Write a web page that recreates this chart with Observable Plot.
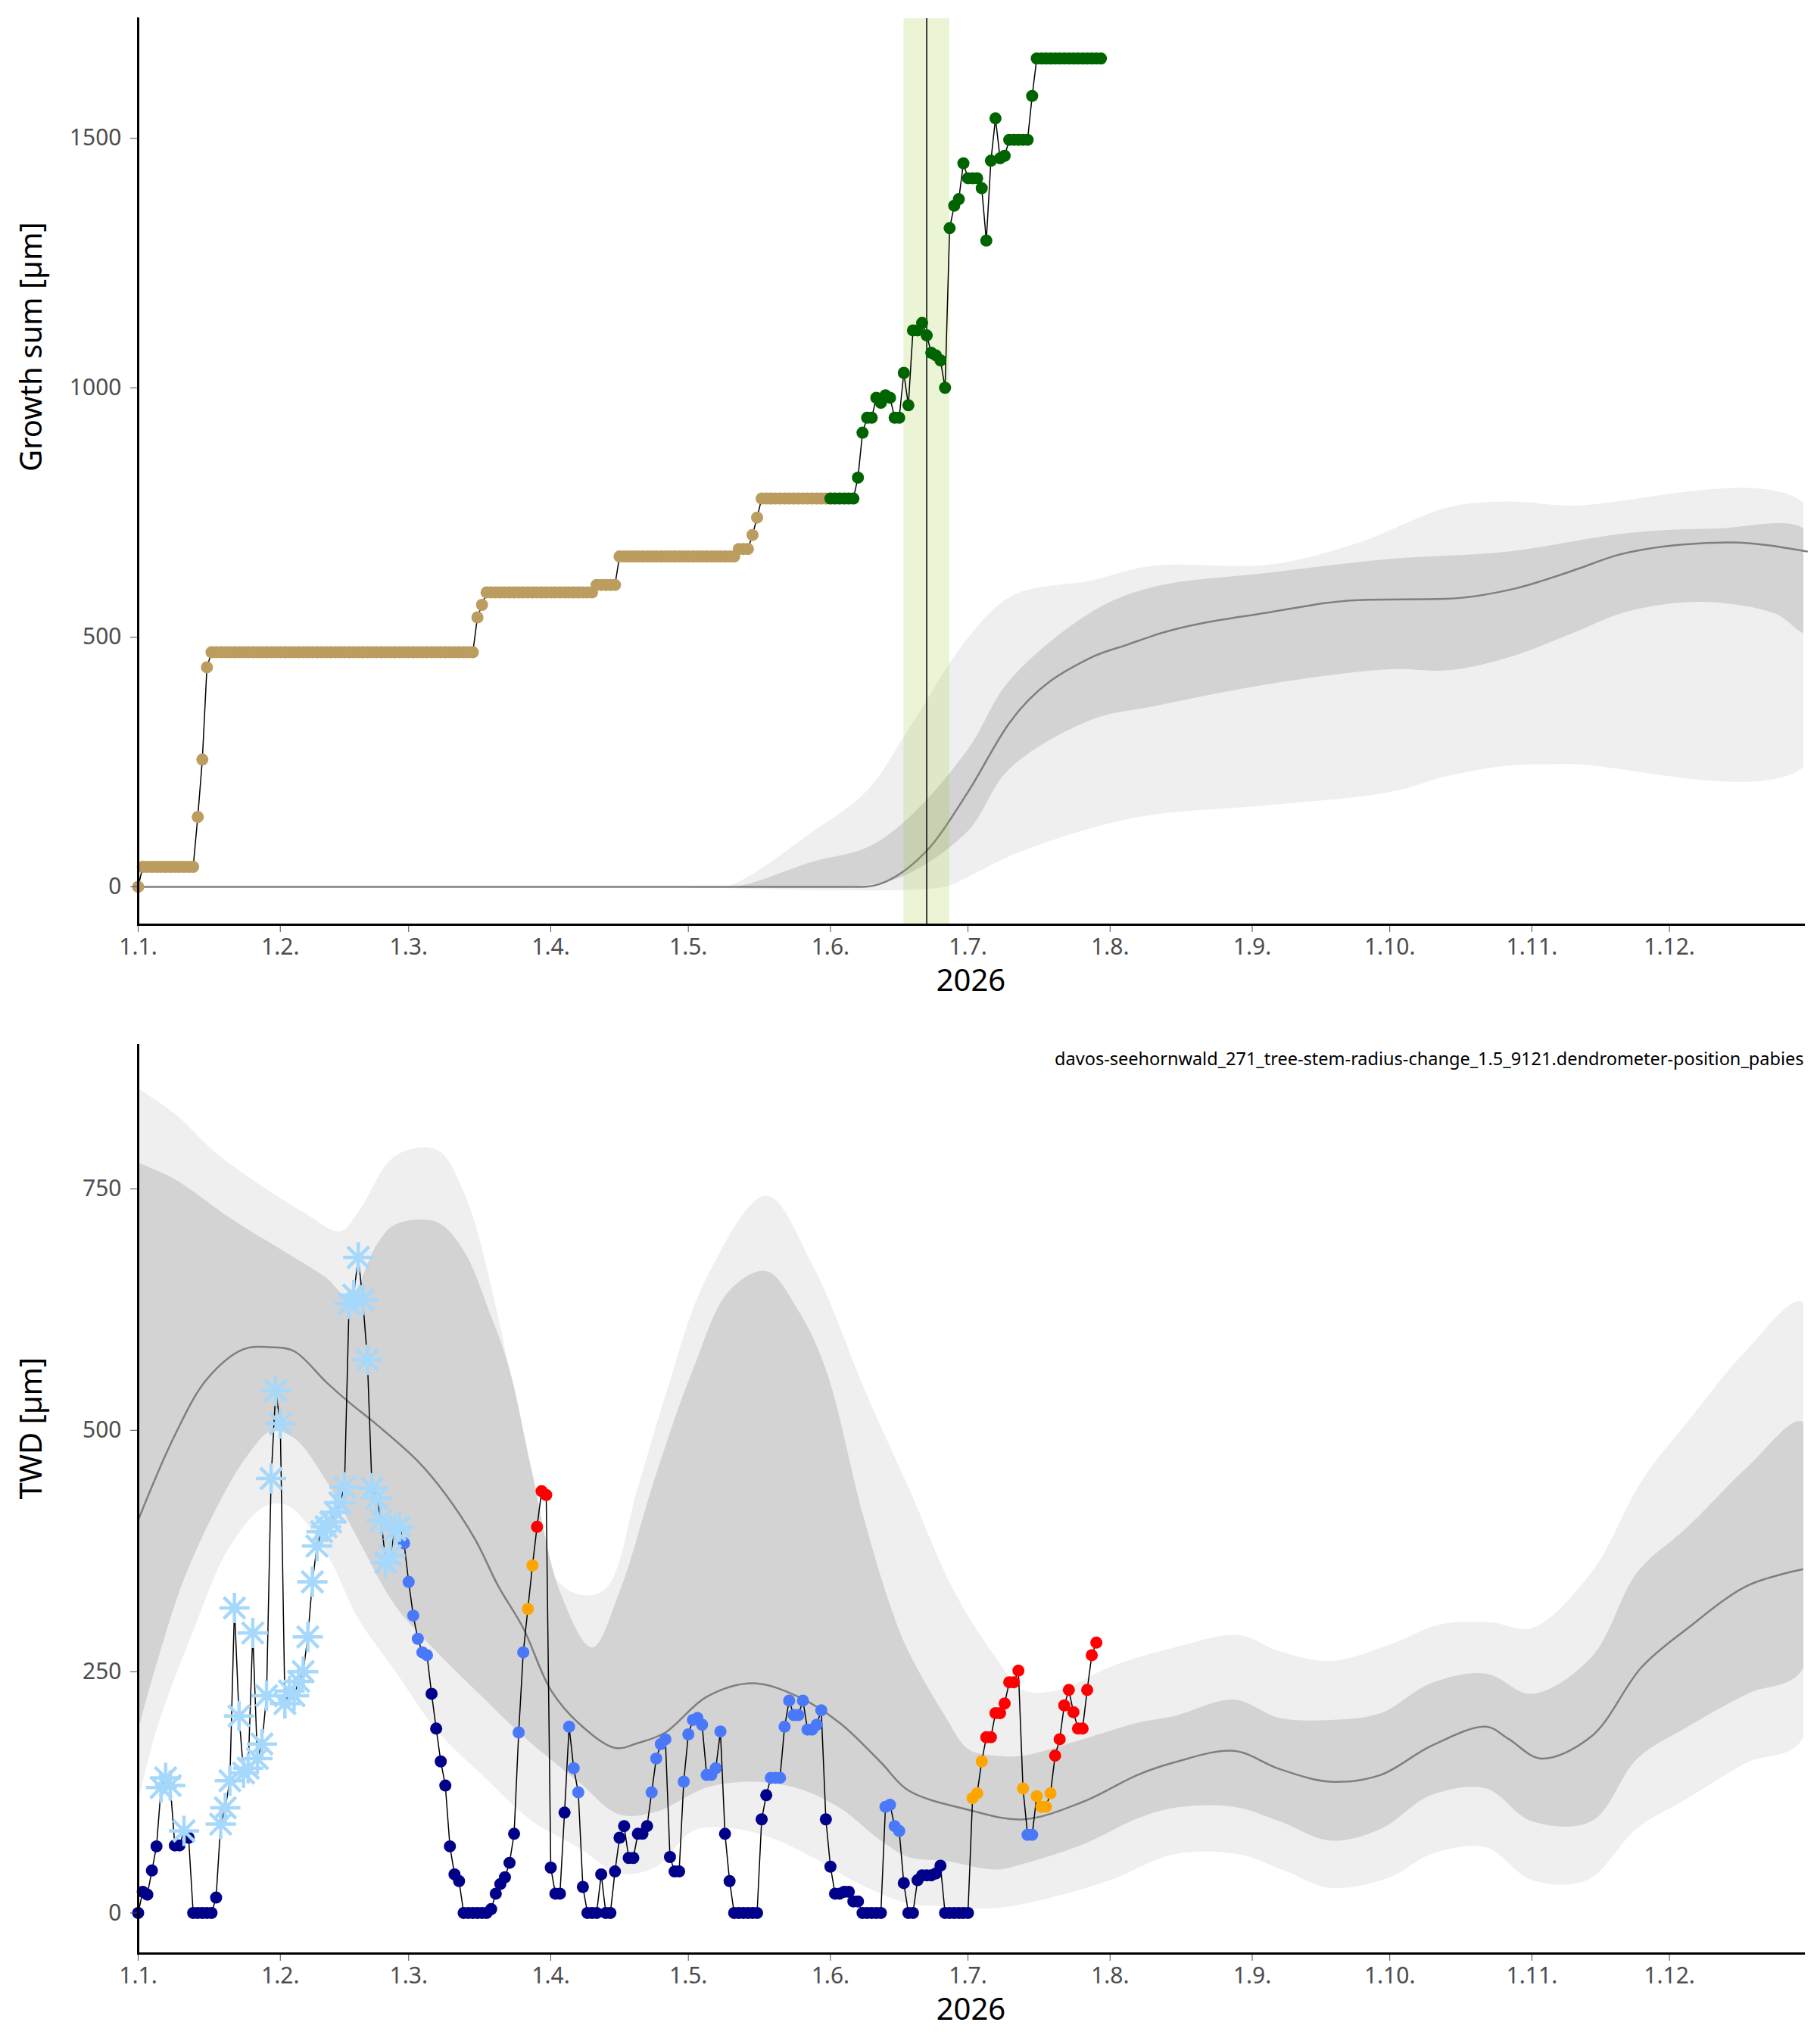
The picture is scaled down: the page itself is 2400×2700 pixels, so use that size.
<!DOCTYPE html>
<html><head><meta charset="utf-8">
<script src="https://cdn.jsdelivr.net/npm/d3@7"></script>
<script src="https://cdn.jsdelivr.net/npm/@observablehq/plot@0.6"></script>
<style>body{margin:0;background:#fff;font-family:"Noto Sans",sans-serif}#c>svg{display:block}</style>
</head><body><div id="c"></div>
<script>
// ---- Top panel: growth sum (day index from 1 Jan 2026) ----
const growthValues = [0,
40,40,40,40,40,40,40,40,40,40,40,40,
140,255,440,
470,470,470,470,470,470,470,470,470,470,470,470,470,470,470,470,470,470,470,470,470,470,470,470,470,470,470,470,470,470,470,470,470,470,470,470,470,470,470,470,470,470,470,470,470,470,470,470,470,470,470,470,470,470,470,470,470,470,
540,565,
590,590,590,590,590,590,590,590,590,590,590,590,590,590,590,590,590,590,590,590,590,590,590,590,
605,605,605,605,605,
662,662,662,662,662,662,662,662,662,662,662,662,662,662,662,662,662,662,662,662,662,662,662,662,662,662,
677,677,677,705,740,
778,778,778,778,778,778,778,778,778,778,778,778,778,778,778,778,778,778,778,778,778,
820,910,940,940,980,970,985,980,940,940,1030,965,1115,1115,1130,1105,1070,1065,1055,1000,
1320,1365,1378,1450,1420,1420,1420,1400,1295,1455,1540,1460,1465,1497,1497,1497,1497,1497,1585,
1660,1660,1660,1660,1660,1660,1660,1660,1660,1660,1660,1660,1660,1660,1660];
const growthSeasonStart = 151; // green from 1 June
const growthColors = {before:"#bb9d60", season:"#006400"};
const peakWindow = [167, 177];
const peakDay = 172;
// climatology bands (day, value)
const gMedian = [[0,0],[150,0],[158,0],[163,10],[168,38],[172,72],[181,190],[190,328],[208,460],[216,486],[223,508],[246,549],[267,575],[285,577],[300,597],[314,637],[322,663],[337,686],[347,690],[364,672]];
const gInnerHi = [[120,0],[131,2],[147,50],[159,79],[168,138],[181,276],[190,413],[208,551],[221,600],[247,630],[273,657],[299,672],[325,709],[344,718],[364,713]];
const gInnerLo = [[120,0],[150,0],[160,5],[168,26],[181,112],[190,236],[208,335],[221,361],[247,407],[273,436],[286,434],[299,460],[312,505],[325,552],[341,571],[357,548],[364,509]];
const gOuterHi = [[120,0],[129,3],[147,110],[159,193],[168,315],[181,499],[191,585],[208,614],[221,643],[247,646],[266,689],[286,761],[299,772],[312,764],[364,764]];
const gOuterLo = [[120,0],[176,0],[181,20],[191,65],[208,118],[221,144],[247,164],[273,190],[286,223],[299,243],[312,246],[364,246]];

// ---- Bottom panel: TWD (consecutive days), values and class per segment ----
// classes: N dark blue, B blue, S snowflake, O orange, R red
const twdSegments = [
 ["N",[0,22,19,44,69]],
 ["S",[130,140,132]],
 ["N",[70,70]],
 ["S",[85]],
 ["N",[78,0,0,0,0,0,16]],
 ["S",[92,109,137,316,204,145,150,290,160,175,225,450,541,507,217,230,225,240,250,286,343,380,395,400,405,415,425,441,631,640,679,635,573,440,430,407,363,370,397,400]],
 ["B",[383,343,308,284,270,267]],
 ["N",[227,191,157,132,69,40,33,0,0,0,0,0,0,4,20,30,37,52,82]],
 ["B",[187,270]],
 ["O",[315,360]],
 ["R",[400,437,433]],
 ["N",[47,20,20,104]],
 ["B",[193,150,125]],
 ["N",[27,0,0,0,40,0,0,43,78,90,57,57,82,82,90]],
 ["B",[125,160,175,180]],
 ["N",[58,43,43]],
 ["B",[136,185,200,202,195,143,143,150,188]],
 ["N",[82,33,0,0,0,0,0,0,97,122]],
 ["B",[140,140,140,193,220,205,205,220,190,190,195,210]],
 ["N",[97,48,20,20,22,22,12,12,0,0,0,0,0]],
 ["B",[110,112,90,85]],
 ["N",[31,0,0,34,39,39,39,41,49,0,0,0,0,0,0]],
 ["O",[119,124,157]],
 ["R",[182,182,207,207,217,239,239,251]],
 ["O",[129]],
 ["B",[81,81]],
 ["O",[121,110,110,124]],
 ["R",[163,180,215,231,208,191,191,231,267,280]]
];
const twdColors = {N:"#00008b", B:"#4a78fa", S:"#a6d8fb", O:"#ffa500", R:"#ff0000"};
const tMedian = [[0,407],[8,495],[15,553],[23,584],[29,586],[34,582],[41,550],[46,529],[52,506],[61,468],[67,434],[73.5,387],[78.5,339],[84,295],[90,231],[96,197],[104,171],[109,176],[115,187],[124,224],[134,238],[144,224],[153,197],[162,156],[168,127],[181,107],[193,97],[206,115],[218,143],[226,156],[239,168],[249,149],[260,136],[271,143],[282,173],[294,193],[299,180],[306,160],[317,183],[328,255],[338,295],[351,339],[363,356]];
const tInnerHi = [[0,777],[8,760],[20,720],[33,682],[41,658],[46,638],[52,692],[56,713],[65,716],[71,686],[77,618],[81,563],[86,455],[92,333],[99,275],[105,333],[113,455],[121,563],[129,645],[137,665],[144,624],[150,563],[158,414],[164,319],[168,271],[176,204],[181,170],[187,163],[193,163],[206,180],[218,197],[226,204],[239,221],[249,202],[260,200],[271,207],[282,238],[294,248],[304,227],[317,265],[327,353],[338,400],[351,462],[363,509]];
const tInnerLo = [[0,190],[4,258],[10,346],[18,428],[24,475],[29,499],[34,492],[41,448],[48,387],[56,319],[65,271],[73.5,231],[84,183],[96,136],[105,102],[113,105],[124,130],[134,136],[144,129],[153,109],[162,75],[168,58],[176,54],[187,45],[193,51],[206,71],[218,98],[226,109],[239,110],[249,95],[260,75],[271,87],[282,122],[294,129],[304,95],[317,95],[327,160],[338,193],[351,227],[363,252]];
const tOuterHi = [[0,854],[8,828],[17,787],[27,753],[36,726],[44,706],[48,726],[56,784],[65,791],[71,747],[78.5,618],[85,455],[90,353],[96,330],[102,336],[109,441],[115,536],[124,658],[137,743],[147,672],[159,536],[168,441],[178,333],[187,265],[193,231],[201,231],[212,255],[226,275],[240,288],[249,271],[260,261],[273,278],[284,299],[295,301],[304,295],[317,353],[328,448],[338,509],[351,584],[363,633]];
const tOuterLo = [[0,115],[4,190],[12,292],[20,380],[28,422],[33,421],[41,373],[48,305],[56,251],[65,190],[75,143],[86,95],[96,68],[105,41],[113,48],[121,85],[129,88],[138,78],[147,58],[157,31],[168,10],[176,7],[187,5],[200,17],[212,34],[226,61],[240,61],[250,44],[260,26],[273,37],[282,61],[294,68],[304,34],[316,34],[327,88],[338,119],[351,156],[363,180]];

const caption = "davos-seehornwald_271_tree-stem-radius-change_1.5_9121.dendrometer-position_pabies";
const monthTicks = d3.utcMonths(new Date(Date.UTC(2026,0,1)), new Date(Date.UTC(2026,11,2)));
const fmt = d => `${d.getUTCDate()}.${d.getUTCMonth()+1}.`;
const D = d => new Date(Date.UTC(2026,0,1) + d*864e5);
const xDomain = [D(0), D(363.3)];

function poly(hi, lo){ return [...hi.map(([d,v])=>({x:D(d),y:v})), ...lo.slice().reverse().map(([d,v])=>({x:D(d),y:v}))]; }
const pts = a => a.map(([d,v])=>({x:D(d),y:v}));

const snow = {draw(ctx,size){const r=Math.sqrt(size/Math.PI);for(const a of [0,45,90,135]){const t=a*Math.PI/180;ctx.moveTo(-r*Math.cos(t),-r*Math.sin(t));ctx.lineTo(r*Math.cos(t),r*Math.sin(t));}}};

function common(yLabel, yTicks){
  return [
    Plot.axisX({ticks:monthTicks, tickFormat:fmt, tickSize:10, tickPadding:8, fontSize:30, color:"#4d4d4d", label:null}),
    Plot.axisY({ticks:yTicks, tickFormat:d=>String(d), tickSize:10, tickPadding:12, fontSize:30, color:"#4d4d4d", label:null}),
    Plot.frame({anchor:"left", stroke:"black", strokeWidth:3}),
    Plot.frame({anchor:"bottom", stroke:"black", strokeWidth:3}),
    Plot.text([yLabel],{frameAnchor:"left", rotate:-90, dx:-140, fontSize:40, fill:"black"}),
    Plot.text(["2026"],{frameAnchor:"bottom", dy:87, fontSize:40, fill:"black"})
  ];
}

const gData = growthValues.map((v,i)=>({x:D(i), y:v, c: i>=growthSeasonStart ? growthColors.season : growthColors.before}));
const topChart = Plot.plot({
  width:2400, height:1340, marginLeft:182, marginRight:18, marginTop:24, marginBottom:119,
  style:{fontFamily:"Noto Sans", background:"white"},
  x:{type:"utc", domain:xDomain}, y:{domain:[-76,1740]},
  marks:[
    Plot.line(poly(gOuterHi,gOuterLo),{x:"x",y:"y",fill:"#efefef",stroke:"none",curve:"catmull-rom",clip:true}),
    Plot.line(poly(gInnerHi,gInnerLo),{x:"x",y:"y",fill:"#d3d3d3",stroke:"none",curve:"catmull-rom",clip:true}),
    Plot.line(pts(gMedian),{x:"x",y:"y",stroke:"#7f7f7f",strokeWidth:2.5,curve:"monotone-x"}),
    Plot.rect([peakWindow],{x1:d=>D(d[0]), x2:d=>D(d[1]), fill:"#9acd32", fillOpacity:0.2}),
    Plot.ruleX([peakDay],{x:d=>D(d), stroke:"black", strokeWidth:1.5}),
    Plot.line(gData,{x:"x",y:"y",stroke:"black",strokeWidth:1.5}),
    Plot.dot(gData,{x:"x",y:"y",fill:"c",r:8,stroke:null}),
    ...common("Growth sum [µm]",[0,500,1000,1500])
  ]
});

const tData = twdSegments.flatMap(([k,vals])=>vals.map(v=>({k,v}))).map((d,i)=>({x:D(i), y:d.v, k:d.k}));
const bottomChart = Plot.plot({
  width:2400, height:1360, marginLeft:182, marginRight:18, marginTop:40, marginBottom:120,
  style:{fontFamily:"Noto Sans", background:"white"},
  x:{type:"utc", domain:xDomain}, y:{domain:[-42,899]},
  marks:[
    Plot.line(poly(tOuterHi,tOuterLo),{x:"x",y:"y",fill:"#efefef",stroke:"none",curve:"catmull-rom",clip:true}),
    Plot.line(poly(tInnerHi,tInnerLo),{x:"x",y:"y",fill:"#d3d3d3",stroke:"none",curve:"catmull-rom",clip:true}),
    Plot.line(pts(tMedian),{x:"x",y:"y",stroke:"#7f7f7f",strokeWidth:2.5,curve:"catmull-rom"}),
    Plot.line(tData,{x:"x",y:"y",stroke:"black",strokeWidth:1.5}),
    Plot.dot(tData.filter(d=>d.k!=="S"),{x:"x",y:"y",fill:d=>twdColors[d.k],r:8,stroke:null}),
    Plot.dot(tData.filter(d=>d.k==="S"),{x:"x",y:"y",symbol:snow,r:20,fill:"none",stroke:twdColors.S,strokeWidth:4.5}),
    Plot.text([caption],{frameAnchor:"top-right", dy:10, fontSize:23.5, fill:"black"}),
    ...common("TWD [µm]",[0,250,500,750])
  ]
});
document.getElementById("c").append(topChart, bottomChart);
</script></body></html>
